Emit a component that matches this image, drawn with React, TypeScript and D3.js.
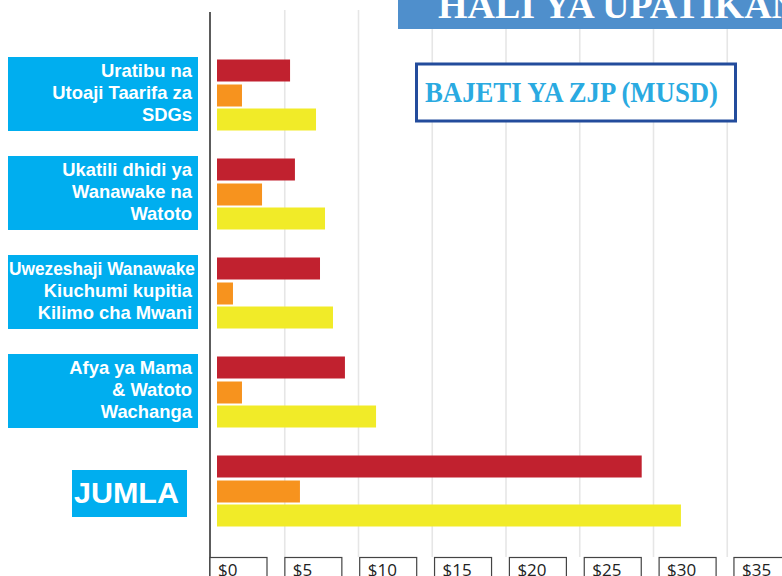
import React, { useEffect, useRef } from "react";
import * as d3 from "d3";

const categories = [
  ["Uratibu na", "Utoaji Taarifa za", "SDGs"],
  ["Ukatili dhidi ya", "Wanawake na", "Watoto"],
  ["Uwezeshaji Wanawake", "Kiuchumi kupitia", "Kilimo cha Mwani"],
  ["Afya ya Mama", "& Watoto", "Wachanga"],
  ["JUMLA"],
];
const seriesRed = [5.36, 5.69, 7.39, 9.08, 29.2];
const seriesOrange = [2.1, 3.46, 1.49, 2.1, 6.03];
const seriesYellow = [7.12, 7.73, 8.27, 11.19, 31.86];
const tickValues = [0, 5, 10, 15, 20, 25, 30, 35];
const tickLabels = ["$0", "$5", "$10", "$15", "$20", "$25", "$30", "$35"];
const titleText = "HALI YA UPATIKANAJI";
const subtitleText = "BAJETI YA ZJP (MUSD)";

const W = 782;
const H = 576;
const COLORS = ["#C1212F", "#F7931E", "#F1EB28"];

export default function App() {
  const labelsRef = useRef<SVGGElement>(null);
  const x = d3.scaleLinear().domain([0, 35]).range([211, 727.25]);
  const y = d3
    .scaleBand<number>()
    .domain(categories.map((_, i) => i))
    .range([54.5, 549.5])
    .padding(0);
  const series = [seriesRed, seriesOrange, seriesYellow];
  const barH = 22;
  const barOff = [5, 30, 54];
  const x0 = x(0) + 6;

  useEffect(() => {
    if (!labelsRef.current) return;
    d3.select(labelsRef.current)
      .selectAll<SVGTextElement, unknown>("text.lbl")
      .each(function () {
        const len = this.getComputedTextLength();
        if (len > 186) {
          d3.select(this)
            .attr("text-anchor", "start")
            .attr("x", 9)
            .attr("textLength", 186)
            .attr("lengthAdjust", "spacingAndGlyphs");
        }
      });
  }, []);

  return (
    <svg
      width={W}
      height={H}
      style={{ position: "absolute", left: 0, top: 0, background: "#fff" }}
    >
      {/* gridlines */}
      {tickValues.slice(1).map((v) => (
        <line
          key={"g" + v}
          x1={x(v)}
          x2={x(v)}
          y1={10}
          y2={557}
          stroke="#E6E6E6"
          strokeWidth={1.6}
        />
      ))}
      {/* title */}
      <rect x={398} y={0} width={W - 398} height={29} fill="#4F8FCC" />
      <text
        x={438}
        y={18}
        fill="#fff"
        fontFamily="'Liberation Serif', 'DejaVu Serif', serif"
        fontWeight="bold"
        fontSize={38}
      >
        {titleText}
      </text>
      {/* subtitle box */}
      <rect
        x={416.5}
        y={64}
        width={319}
        height={57}
        fill="#fff"
        stroke="#234C9C"
        strokeWidth={3}
      />
      <text
        x={425}
        y={101.5}
        fill="#2AAAE1"
        fontFamily="'Liberation Serif', serif"
        fontWeight="bold"
        fontSize={29}
        textLength={293}
        lengthAdjust="spacingAndGlyphs"
      >
        {subtitleText}
      </text>
      {/* bars */}
      {categories.map((_, i) =>
        series.map((s, k) => (
          <rect
            key={`b${i}-${k}`}
            x={x0}
            y={(y(i) as number) + barOff[k]}
            width={Math.max(0, x(s[i]) - x0)}
            height={barH}
            fill={COLORS[k]}
          />
        ))
      )}
      {/* labels */}
      <g ref={labelsRef}>
        {categories.map((lines, i) => {
          const top = y(i) as number;
          if (lines.length === 1) {
            return (
              <g key={"l" + i}>
                <rect x={72} y={top + 19.5} width={115} height={47} fill="#00AEEF" />
                <text
                  x={74}
                  y={top + 52.5}
                  fill="#fff"
                  fontFamily="'Liberation Sans', Arial, sans-serif"
                  fontWeight="bold"
                  fontSize={30}
                  textLength={105}
                  lengthAdjust="spacingAndGlyphs"
                >
                  {lines[0]}
                </text>
              </g>
            );
          }
          return (
            <g key={"l" + i}>
              <rect x={8} y={top + 2.5} width={190} height={74} fill="#00AEEF" />
              {lines.map((ln, j) => (
                <text
                  key={j}
                  className="lbl"
                  x={192}
                  y={top + 22.5 + j * 22}
                  textAnchor="end"
                  fill="#fff"
                  fontFamily="'Liberation Sans', Arial, sans-serif"
                  fontWeight="bold"
                  fontSize={18.4}
                >
                  {ln}
                </text>
              ))}
            </g>
          );
        })}
      </g>
      {/* axis line */}
      <line x1={210} x2={210} y1={12} y2={576} stroke="#333" strokeWidth={1.6} />
      {/* tick boxes */}
      {tickValues.map((v, i) => {
        const bx = x(v) - 1 + i * 1.1;
        return (
          <g key={"t" + v}>
            <rect
              x={bx}
              y={557.5}
              width={57}
              height={30}
              fill="#fff"
              stroke="#444"
              strokeWidth={1.2}
            />
            <text
              x={bx + 8}
              y={576}
              fill="#222"
              fontFamily="'Open Sans', 'Noto Sans', sans-serif"
              fontSize={17}
            >
              {tickLabels[i]}
            </text>
          </g>
        );
      })}
    </svg>
  );
}
